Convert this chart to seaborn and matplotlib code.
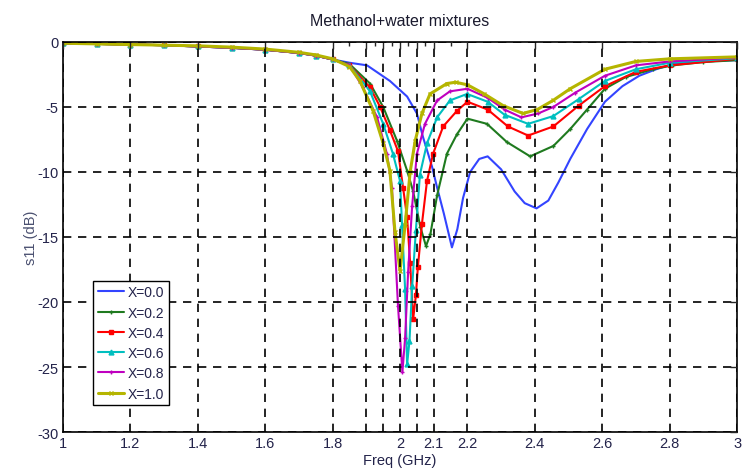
import numpy as np
import pandas as pd
import matplotlib
matplotlib.use("Agg")
import matplotlib.pyplot as plt
import seaborn as sns

# data (freq in GHz, s11 in dB)
f_00 = [1.0, 1.1, 1.2, 1.3, 1.4, 1.5, 1.6, 1.7, 1.75, 1.8, 1.85, 1.902, 1.97, 2.021, 2.05, 2.068, 2.095,
        2.11, 2.13, 2.154, 2.17, 2.187, 2.208, 2.235, 2.26, 2.3, 2.34, 2.37, 2.405, 2.44, 2.47, 2.505,
        2.555, 2.608, 2.66, 2.71, 2.76, 2.81, 2.9, 3.0]
s_00 = [-0.1, -0.15, -0.2, -0.25, -0.35, -0.45, -0.6, -0.85, -1.05, -1.35, -1.6, -1.8, -3.0, -4.2, -5.5, -7.3, -9.6,
        -11.2, -13.2, -15.8, -14.4, -12.0, -10.0, -9.0, -8.8, -9.8, -11.5, -12.4, -12.8, -12.2, -10.8, -9.0,
        -6.7, -4.6, -3.4, -2.6, -2.1, -1.7, -1.5, -1.4]

f_02 = [1.0, 1.1, 1.2, 1.3, 1.4, 1.5, 1.6, 1.7, 1.75, 1.8, 1.85, 1.911, 1.95, 1.991, 2.021, 2.039, 2.06,
        2.077, 2.09, 2.11, 2.139, 2.169, 2.2, 2.258, 2.317, 2.386, 2.455, 2.505, 2.555, 2.608, 2.67, 2.75,
        2.81, 2.9, 3.0]
s_02 = [-0.1, -0.15, -0.2, -0.25, -0.35, -0.45, -0.6, -0.85, -1.05, -1.35, -1.7, -3.2, -5.0, -7.6, -9.9, -11.5, -14.2,
        -15.7, -14.8, -11.8, -8.6, -7.1, -5.9, -6.3, -7.7, -8.8, -8.0, -6.7, -5.2, -3.6, -2.7, -2.1,
        -1.8, -1.55, -1.4]

f_04 = [1.0, 1.1, 1.2, 1.3, 1.4, 1.5, 1.6, 1.7, 1.75, 1.8, 1.85, 1.911, 1.941, 1.97, 1.994, 2.009, 2.021,
        2.03, 2.039, 2.047, 2.053, 2.065, 2.08, 2.098, 2.128, 2.169, 2.2, 2.26, 2.32, 2.38, 2.455, 2.53,
        2.608, 2.7, 2.8, 3.0]
s_04 = [-0.1, -0.15, -0.2, -0.25, -0.35, -0.45, -0.6, -0.85, -1.05, -1.35, -1.8, -3.5, -5.0, -6.8, -8.4, -11.2, -13.5,
        -17.0, -21.3, -19.5, -17.3, -14.0, -10.7, -8.6, -6.5, -5.3, -4.6, -5.2, -6.5, -7.2, -6.5, -4.9,
        -3.4, -2.3, -1.8, -1.3]

f_06 = [1.0, 1.1, 1.2, 1.3, 1.4, 1.5, 1.6, 1.7, 1.75, 1.8, 1.85, 1.911, 1.95, 1.979, 2.0, 2.006, 2.015,
        2.021, 2.028, 2.036, 2.047, 2.059, 2.08, 2.11, 2.148, 2.199, 2.26, 2.31, 2.38, 2.455, 2.53, 2.608,
        2.7, 2.8, 3.0]
s_06 = [-0.1, -0.15, -0.2, -0.25, -0.35, -0.45, -0.6, -0.85, -1.05, -1.35, -1.8, -3.8, -6.3, -8.6, -10.7, -14.1, -19.0,
        -24.8, -23.0, -18.8, -14.5, -10.2, -7.8, -5.8, -4.5, -4.0, -4.6, -5.6, -6.3, -5.7, -4.4, -3.0,
        -2.1, -1.6, -1.25]

f_08 = [1.0, 1.1, 1.2, 1.3, 1.4, 1.5, 1.6, 1.7, 1.75, 1.8, 1.85, 1.89, 1.932, 1.961, 1.976, 1.994, 2.007,
        2.015, 2.024, 2.036, 2.05, 2.074, 2.11, 2.148, 2.2, 2.26, 2.31, 2.36, 2.41, 2.455, 2.52, 2.608,
        2.7, 2.8, 3.0]
s_08 = [-0.1, -0.15, -0.2, -0.25, -0.35, -0.45, -0.6, -0.85, -1.05, -1.35, -1.8, -3.5, -5.8, -8.6, -11.2, -20.3, -25.4,
        -22.8, -17.7, -12.6, -8.6, -6.3, -4.5, -3.8, -3.6, -4.3, -5.2, -5.8, -5.5, -5.0, -3.9, -2.6,
        -1.8, -1.5, -1.2]

f_10 = [1.0, 1.1, 1.2, 1.3, 1.4, 1.5, 1.6, 1.7, 1.75, 1.8, 1.85, 1.881, 1.92, 1.95, 1.97, 1.985, 2.0,
        2.015, 2.03, 2.045, 2.065, 2.089, 2.139, 2.165, 2.2, 2.25, 2.306, 2.365, 2.407, 2.454, 2.505, 2.608,
        2.7, 2.8, 3.0]
s_10 = [-0.1, -0.15, -0.2, -0.25, -0.3, -0.4, -0.55, -0.8, -1.0, -1.3, -1.9, -3.0, -5.3, -7.8, -9.9, -14.6, -17.6,
        -14.1, -10.0, -7.6, -5.5, -4.0, -3.2, -3.1, -3.3, -4.0, -4.9, -5.5, -5.2, -4.5, -3.6, -2.1,
        -1.5, -1.3, -1.15]

labels = ["X=0.0", "X=0.2", "X=0.4", "X=0.6", "X=0.8", "X=1.0"]
colors = ["#3344ff", "#1f7a1f", "#ff0000", "#00bfbf", "#bf00bf", "#b5b500"]
markers = [None, "+", "s", "^", "+", "x"]
series = [(f_00, s_00), (f_02, s_02), (f_04, s_04), (f_06, s_06), (f_08, s_08), (f_10, s_10)]

x_grid = [1.0, 1.2, 1.4, 1.6, 1.8, 1.9, 1.95, 2.0, 2.05, 2.1, 2.2, 2.4, 2.6, 2.8, 3.0]
x_labels = ["1", "1.2", "1.4", "1.6", "1.8", "", "", "2", "", "2.1", "2.2", "2.4", "2.6", "2.8", "3"]
x_minor = [1.85, 1.925, 1.975, 2.025, 2.075, 2.15]
y_ticks = [-30, -25, -20, -15, -10, -5, 0]

sns.set_style("white")
plt.rcParams['font.family'] = ['Liberation Sans', 'DejaVu Sans']

fig = plt.figure(figsize=(7.43, 4.77), dpi=100)
ax = fig.add_axes([0.0848, 0.0922, 0.9072, 0.8178])

for (fx, sy), lab, col, mk in zip(series, labels, colors, markers):
    df = pd.DataFrame({'freq': fx, 's11': sy})
    sns.lineplot(data=df, x='freq', y='s11', color=col, marker=mk, markersize=3.5,
                 markeredgecolor=col, markerfacecolor=col, markeredgewidth=1.0,
                 linewidth=1.5 if lab != "X=1.0" else 2.2,
                 label=lab, estimator=None, sort=False, ax=ax)

ax.set_xlim(1, 3)
ax.set_ylim(-30, 0)
ax.set_xticks(x_grid)
ax.set_xticklabels(x_labels)
ax.set_xticks(x_minor, minor=True)
ax.set_yticks(y_ticks)
ax.set_yticklabels([str(v) for v in y_ticks])

ax.grid(True, which='major', color='black', linestyle=(0, (5, 4)), linewidth=1.2)
ax.set_axisbelow(False)
ax.tick_params(which='major', direction='in', length=5, width=1, top=True, right=True,
               labelsize=10.5, labelcolor='#23234a', pad=3)
ax.tick_params(which='minor', direction='in', length=3, width=1, top=True, right=True)
for sp in ax.spines.values():
    sp.set_color('black')
    sp.set_linewidth(1.2)

ax.set_title('Methanol+water mixtures', fontsize=11.5, color='#1a1a2e', pad=12)
ax.set_xlabel('Freq (GHz)', fontsize=10.5, color='#23234a', labelpad=2)
ax.set_ylabel('s11 (dB)', fontsize=10.5, color='#4a5070', labelpad=0)

handles, labs = ax.get_legend_handles_labels()
leg = ax.legend(handles, labs, loc='lower left', bbox_to_anchor=(0.045, 0.07), fontsize=10,
                frameon=True, fancybox=False, edgecolor='black', framealpha=1,
                handlelength=1.9, handletextpad=0.3, labelspacing=0.45, borderpad=0.3,
                borderaxespad=0)
leg.get_frame().set_linewidth(1.0)
for t in leg.get_texts():
    t.set_color('#23234a')

fig.savefig('out.png', dpi=100)
